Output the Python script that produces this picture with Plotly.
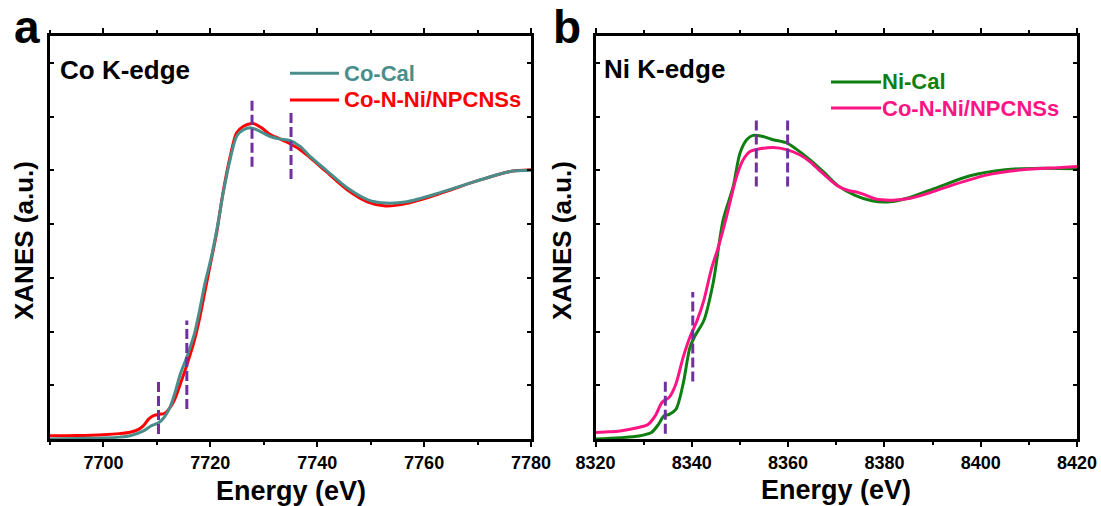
import plotly.graph_objects as go

# ---------------- data ----------------
co_cal_E = [7690, 7695, 7700, 7703, 7705, 7707.5, 7709, 7710.3, 7711.3, 7712.4, 7713.5, 7714.4,
            7715.5, 7717, 7718, 7719, 7720.1, 7721.2, 7722.4, 7723.7, 7724.9, 7726.2, 7727.7,
            7729.3, 7731.2, 7733.0, 7734.9, 7736.8, 7738.5, 7741.7, 7745.6, 7749.5, 7752.8,
            7756.8, 7762.7, 7769.3, 7775.9, 7780]
co_cal_y = [0.0, 0.002, 0.004, 0.007, 0.012, 0.03, 0.05, 0.06, 0.079, 0.116, 0.18, 0.243,
            0.30, 0.39, 0.48, 0.58, 0.67, 0.778, 0.915, 1.04, 1.126, 1.151, 1.158,
            1.145, 1.126, 1.117, 1.111, 1.089, 1.055, 1.0, 0.935, 0.89, 0.878,
            0.883, 0.915, 0.957, 0.995, 1.0]

co_cnn_E = [7690, 7695, 7700, 7703, 7705, 7706.5, 7707.5, 7708.5, 7709.5, 7710.5, 7711.4, 7712.4,
            7713.4, 7714.3, 7715.6, 7717, 7718, 7719, 7720, 7721.2, 7722.4, 7723.7, 7724.9,
            7726.2, 7728, 7729.6, 7731.2, 7733, 7734.9, 7736.8, 7738.5, 7741.7, 7745.6,
            7749.5, 7752.8, 7756.8, 7762.7, 7769.3, 7775.9, 7780]
co_cnn_y = [0.012, 0.013, 0.016, 0.02, 0.025, 0.035, 0.05, 0.075, 0.088, 0.092, 0.095, 0.115,
            0.15, 0.2, 0.275, 0.366, 0.45, 0.55, 0.65, 0.77, 0.92, 1.05, 1.139,
            1.164, 1.174, 1.158, 1.133, 1.117, 1.099, 1.077, 1.05, 0.995, 0.928,
            0.882, 0.867, 0.877, 0.912, 0.957, 0.995, 1.002]

ni_cal_E = [8320, 8325, 8329, 8331.6, 8333.1, 8334.2, 8335.3, 8336.7, 8338.2, 8339.6, 8340.7,
            8342.5, 8344.4, 8346.5, 8348.6, 8350.0, 8351.4, 8352.7, 8354.8, 8356.9, 8359.7,
            8361.7, 8364.5, 8367.3, 8370.2, 8373.8, 8377.4, 8381.1, 8384.7, 8390.5, 8397.8,
            8405.1, 8412.3, 8420]
ni_cal_y = [0.0, 0.005, 0.011, 0.024, 0.055, 0.086, 0.092, 0.11, 0.205, 0.34, 0.385,
            0.441, 0.578, 0.815, 0.94, 1.064, 1.114, 1.13, 1.126, 1.114, 1.102,
            1.079, 1.04, 0.995, 0.945, 0.908, 0.887, 0.883, 0.896, 0.933, 0.98,
            1.002, 1.008, 1.006]

ni_cnn_E = [8320, 8322, 8325.1, 8328.7, 8330.9, 8332.4, 8333.8, 8335.3, 8336.7, 8338.2, 8339.6,
            8341.1, 8342.5, 8344.0, 8345.6, 8347.2, 8349.3, 8350.7, 8352.1, 8354.1, 8356.9,
            8359.7, 8362.4, 8364.5, 8366.5, 8368.7, 8370.5, 8372.5, 8374.5, 8376.5, 8378.2,
            8381.8, 8385.4, 8389, 8394.1, 8401.4, 8408.7, 8416, 8420]
ni_cnn_y = [0.024, 0.026, 0.03, 0.042, 0.054, 0.086, 0.136, 0.155, 0.205, 0.304, 0.379,
            0.441, 0.516, 0.628, 0.72, 0.827, 0.977, 1.04, 1.07, 1.08, 1.085,
            1.077, 1.058, 1.033, 1.0, 0.965, 0.94, 0.925, 0.918, 0.905, 0.893,
            0.889, 0.896, 0.914, 0.945, 0.983, 1.002, 1.01, 1.014]

# guide dashes: (energy, y_low, y_high)
co_marks_E = [7710.3, 7715.6, 7727.8, 7735.1]
co_marks_lo = [0.019, 0.112, 1.013, 0.968]
co_marks_hi = [0.217, 0.441, 1.267, 1.219]
ni_marks_E = [8334.5, 8340.2, 8353.4, 8359.9]
ni_marks_lo = [0.02, 0.214, 0.94, 0.94]
ni_marks_hi = [0.217, 0.547, 1.193, 1.193]

co_x_ticks = [7700, 7720, 7740, 7760, 7780]
ni_x_ticks = [8320, 8340, 8360, 8380, 8400, 8420]

names_a = ["Co-Cal", "Co-N-Ni/NPCNSs"]
names_b = ["Ni-Cal", "Co-N-Ni/NPCNSs"]
edge_labels = ["Co K-edge", "Ni K-edge"]
panel_labels = ["a", "b"]
x_title = "Energy (eV)"
y_title = "XANES (a.u.)"

# ---------------- styling ----------------
W, H = 1101, 506
TEAL = "#4A8E8B"
RED = "#FF0000"
GREEN = "#0F7F12"
PINK = "#FF1483"
PURPLE = "#7030A0"
FONT = "Liberation Sans, Arial, sans-serif"

def px_x(p):
    return p / W

def px_y(p):
    return 1 - p / H

fig = go.Figure()

# panel a curves
fig.add_trace(go.Scatter(x=co_cnn_E, y=co_cnn_y, mode="lines", line=dict(color=RED, width=3, shape="spline", smoothing=0.8),
                         xaxis="x", yaxis="y", showlegend=False, name=names_a[1]))
fig.add_trace(go.Scatter(x=co_cal_E, y=co_cal_y, mode="lines", line=dict(color=TEAL, width=3, shape="spline", smoothing=0.8),
                         xaxis="x", yaxis="y", showlegend=False, name=names_a[0]))
# panel b curves
fig.add_trace(go.Scatter(x=ni_cal_E, y=ni_cal_y, mode="lines", line=dict(color=GREEN, width=3, shape="spline", smoothing=0.8),
                         xaxis="x2", yaxis="y2", showlegend=False, name=names_b[0]))
fig.add_trace(go.Scatter(x=ni_cnn_E, y=ni_cnn_y, mode="lines", line=dict(color=PINK, width=3, shape="spline", smoothing=0.8),
                         xaxis="x2", yaxis="y2", showlegend=False, name=names_b[1]))

# dashed guide lines
for E, lo, hi in zip(co_marks_E, co_marks_lo, co_marks_hi):
    fig.add_trace(go.Scatter(x=[E, E], y=[lo, hi], mode="lines", line=dict(color=PURPLE, width=3, dash="10px,4px"),
                             xaxis="x", yaxis="y", showlegend=False, hoverinfo="skip"))
for E, lo, hi in zip(ni_marks_E, ni_marks_lo, ni_marks_hi):
    fig.add_trace(go.Scatter(x=[E, E], y=[lo, hi], mode="lines", line=dict(color=PURPLE, width=3, dash="10px,4px"),
                             xaxis="x2", yaxis="y2", showlegend=False, hoverinfo="skip"))

tickfont = dict(family=FONT, size=18, color="black", weight="bold")

def xaxis(dom, rng, ticks):
    return dict(domain=dom, range=rng, tickvals=ticks, ticks="outside", ticklen=5, tickwidth=2,
                tickcolor="black", showline=True, linewidth=3, linecolor="black", mirror="ticks",
                showgrid=False, zeroline=False, tickfont=tickfont, automargin=False,
                minor=dict(dtick=10, ticks="outside", ticklen=3, tickwidth=2, tickcolor="black", showgrid=False))

def yaxis(anchor):
    return dict(domain=[px_y(439), px_y(36)], range=[0, 1.5], dtick=0.2, tick0=0, ticks="inside", ticklen=4,
                tickwidth=2, tickcolor="black", showticklabels=False, showline=True, linewidth=3,
                linecolor="black", mirror="ticks", showgrid=False, zeroline=False, anchor=anchor,
                automargin=False)

fig.update_layout(
    width=W, height=H, margin=dict(l=0, r=0, t=0, b=0, autoexpand=False),
    paper_bgcolor="white", plot_bgcolor="white", showlegend=False,
    xaxis=dict(**xaxis([px_x(50), px_x(531)], [7690, 7780], co_x_ticks), anchor="y"),
    yaxis=yaxis("x"),
    xaxis2=dict(**xaxis([px_x(595.5), px_x(1077)], [8320, 8420], ni_x_ticks), anchor="y2"),
    yaxis2=yaxis("x2"),
)

ann = []
def text(t, x, y, size, color="black", xanchor="center", angle=0):
    ann.append(dict(text=t, x=px_x(x), y=px_y(y), xref="paper", yref="paper", showarrow=False,
                    xanchor=xanchor, yanchor="middle", textangle=angle,
                    font=dict(family=FONT, size=size, color=color, weight="bold")))

text(panel_labels[0], 27, 27, 46)
text(panel_labels[1], 567, 27, 46)
text(edge_labels[0], 58, 70, 26, xanchor="left")
text(edge_labels[1], 602, 69, 26, xanchor="left")
text(names_a[0], 342, 73, 22, TEAL, xanchor="left")
text(names_a[1], 342, 100, 22, RED, xanchor="left")
text(names_b[0], 880, 82, 22, GREEN, xanchor="left")
text(names_b[1], 880, 108, 22, PINK, xanchor="left")
text(x_title, 290.5, 491, 27)
text(x_title, 836, 490, 27)
text(y_title, 24, 241, 26, angle=-90)
text(y_title, 562, 241, 26, angle=-90)

shapes = []
for (x0, x1, y, c) in [(290, 339, 73.3, TEAL), (290, 339, 100, RED), (831, 881, 82, GREEN), (831, 881, 108, PINK)]:
    shapes.append(dict(type="line", xref="paper", yref="paper", x0=px_x(x0), x1=px_x(x1), y0=px_y(y), y1=px_y(y),
                       line=dict(color=c, width=3)))

fig.update_layout(annotations=ann, shapes=shapes)
fig.write_html("out.html")
